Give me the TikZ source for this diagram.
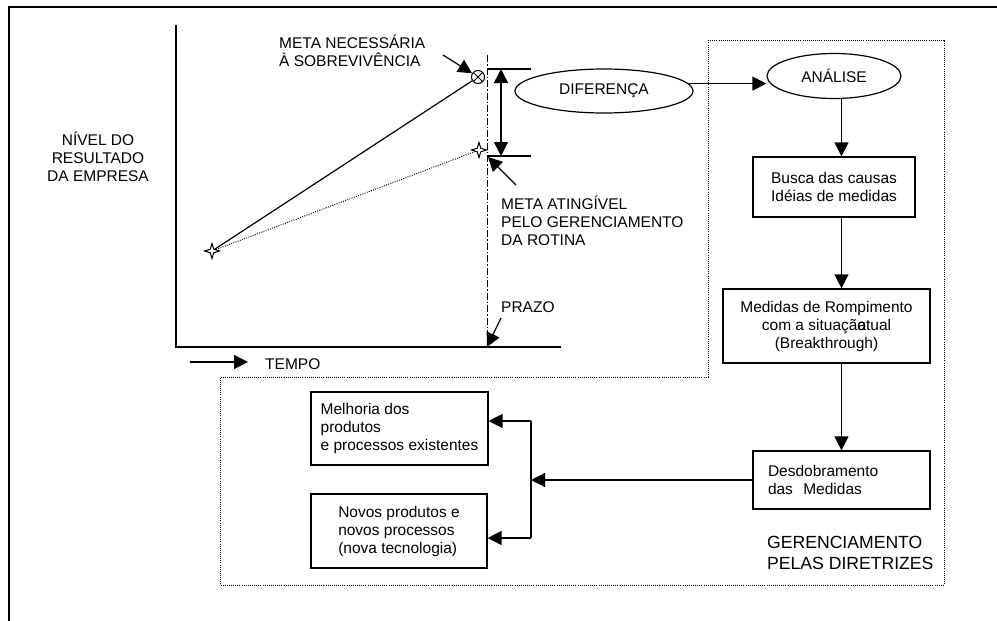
\documentclass[tikz,border=0pt]{standalone}
\usepackage{fontspec}
\setmainfont{Liberation Sans}
\usetikzlibrary{arrows.meta,shapes.geometric}
\begin{document}
\begin{tikzpicture}[x=1pt,y=-1pt,
  every node/.style={font=\fontsize{15.5}{18}\selectfont},
  tip/.tip={Triangle[length=14pt,width=14pt]},
  arr/.style={-tip, line width=1.2pt},
  conn/.style={line width=1.2pt},
  box/.style={draw, line width=1.2pt, inner sep=0pt},
  oval/.style={draw, ellipse, line width=1.2pt, inner sep=0pt},
  region/.style={line width=0.9pt, dash pattern=on 0.9pt off 1.2pt},
  txt/.style={inner sep=0pt, align=left},
  starmark/.style={star, star points=4, star point ratio=3, draw, fill=white,
    minimum size=15pt, inner sep=0pt, line width=1pt}
]
\useasboundingbox (0,0) rectangle (997,621);

% page frame (top and left edges)
\draw[line width=2.4pt] (9,621) -- (9,7) -- (997,7);

% dotted region of the policy management
\draw[region] (708,40) -- (944,40) -- (944,585) -- (220,585) -- (220,377)
  -- (708,377) -- cycle;

% chart axes and deadline
\draw[line width=1.3pt] (176,25) -- (176,347) -- (561,347);
\draw[line width=1pt, dash pattern=on 7pt off 2pt on 1.5pt off 2pt]
  (487,55) -- (487,347);

% gap between the two goals
\draw[conn] (487,69) -- (531,69);
\draw[conn] (487,156) -- (531,156);
\draw[tip-tip, line width=1.4pt] (501,69) -- (501,156);

% goals
\node[circle, draw, line width=1pt, minimum size=13pt, inner sep=0pt,
  path picture={\draw[line width=1pt]
    (path picture bounding box.north west) -- (path picture bounding box.south east)
    (path picture bounding box.south west) -- (path picture bounding box.north east);}]
  (goal) at (478,77) {};
\node[starmark] (s0) at (212,251) {};
\node[starmark] (s1) at (479,150) {};
\draw[conn] (s0) -- (goal);
\draw[line width=1pt, dash pattern=on 0.9pt off 1.4pt] (s0) -- (s1);

% chart labels (base anchor = baseline of the last line)
\node[txt, align=center, anchor=base] (tlevel) at (98,181)
  {NÍVEL DO\\RESULTADO\\DA EMPRESA};
\node[txt, anchor=base west] (tneed) at (279,66)
  {META NECESSÁRIA\\À SOBREVIVÊNCIA};
\coordinate (pneed) at (443,55);
\draw[arr] (pneed) -- (goal);

\node[txt, anchor=base west] (treach) at (501,245)
  {META ATINGÍVEL\\PELO GERENCIAMENTO\\DA ROTINA};
\coordinate (preach) at (516,185);
\coordinate (qreach) at (488,157);
\draw[arr] (preach) -- (qreach);

\node[txt, anchor=base west] (tdead) at (501,312) {PRAZO};
\coordinate (pdead) at (501,318);
\coordinate (qdead) at (487,347);
\draw[arr] (pdead) -- (qdead);

\node[txt, anchor=base west] (ttime) at (265,369) {TEMPO};
\coordinate (ptime) at (190,362);
\coordinate (qtime) at (248,362);
\draw[arr] (ptime) -- (qtime);

% flow of the policy management
\node[oval, minimum width=178pt, minimum height=44pt] (dif) at (604,91) {DIFERENÇA};
\node[oval, minimum width=134pt, minimum height=45pt] (ana) at (834,76) {ANÁLISE};
\node[box, minimum width=162pt, minimum height=60pt, align=center] (busca)
  at (834,187) {Busca das causas\\Idéias de medidas};
\node[box, minimum width=207pt, minimum height=74pt, align=center] (romp)
  at (826.5,326) {Medidas de Rompimento\\com a situaçã\rlap{o}atual\\(Breakthrough)};
\node[box, text width=147pt, inner xsep=15pt, minimum height=58pt, align=left]
  (desd) at (841.5,480) {Desdobramento\\das~~Medidas};
\node[box, minimum width=177pt, minimum height=73pt, align=left] (melh)
  at (399.5,428.5) {Melhoria dos\\produtos\\e processos existentes};
\node[box, minimum width=176pt, minimum height=74pt, align=left] (novo)
  at (399,531) {Novos produtos e\\novos processos\\(nova tecnologia)};
\node[txt, anchor=base west, font=\fontsize{17.6}{21}\selectfont] (tger)
  at (767,569) {GERENCIAMENTO\\PELAS DIRETRIZES};

\draw[arr] (dif.5) -- (dif.5 -| ana.west);
\draw[arr] (ana.south -| desd) -- (busca.north -| desd);
\draw[arr] (busca.south -| desd) -- (romp.north -| desd);
\draw[arr] (romp.south -| desd) -- (desd.north);

\coordinate (bt) at (531,421);
\coordinate (bb) at (531,538);
\draw[arr] (desd.west) -- (desd.west -| bt);
\draw[conn] (bt) -- (bb);
\draw[arr] (bt) -- (bt -| melh.east);
\draw[arr] (bb) -- (bb -| novo.east);
\end{tikzpicture}
\end{document}
